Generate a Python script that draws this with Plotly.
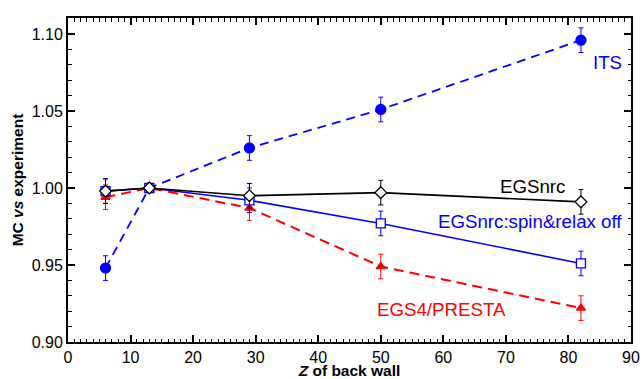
import plotly.graph_objects as go

z = [6, 13, 29, 50, 82]
its = [0.948, 1.000, 1.026, 1.051, 1.096]
its_err = [0.008, 0.002, 0.008, 0.008, 0.008]
egsnrc = [0.998, 1.000, 0.995, 0.997, 0.991]
egsnrc_err = [0.008, 0.002, 0.008, 0.008, 0.008]
spin_off = [0.998, 1.000, 0.992, 0.977, 0.951]
spin_err = [0.008, 0.002, 0.008, 0.008, 0.008]
presta = [0.994, 1.000, 0.987, 0.949, 0.922]
presta_err = [0.008, 0.002, 0.008, 0.008, 0.008]

BLUE = "#0000ff"
RED = "#ff0000"
FONT = "Liberation Sans"

fig = go.Figure()

def add(y, err, color, dash, symbol, fill, lw, msize):
    fig.add_trace(go.Scatter(
        x=z, y=y, mode="lines+markers",
        line=dict(color=color, width=lw, dash=dash),
        marker=dict(symbol=symbol, size=msize, color=fill,
                    line=dict(color=color, width=1.3)),
        error_y=dict(type="data", array=err, visible=True, color=color,
                     thickness=1, width=2.5),
        showlegend=False, cliponaxis=False))

add(presta, presta_err, RED, "10px,6px", "triangle-up", RED, 2, 8)
add(its, its_err, BLUE, "9px,6px", "circle", BLUE, 1.8, 10)
add(spin_off, spin_err, BLUE, "solid", "square", "white", 1.6, 9)
add(egsnrc, egsnrc_err, "black", "solid", "diamond", "white", 1.6, 9)

labels = [
    ("ITS", 86.2, 1.0818, BLUE),
    ("EGSnrc", 74.2, 1.0012, "black"),
    ("EGSnrc:spin&relax off", 73.9, 0.9784, BLUE),
    ("EGS4/PRESTA", 59.7, 0.9212, RED),
]
for txt, xx, yy, col in labels:
    fig.add_annotation(x=xx, y=yy, text=txt, showarrow=False,
                       font=dict(family=FONT, size=18.7, color=col))

axis_common = dict(
    showline=True, linecolor="black", linewidth=2, mirror="allticks",
    ticks="inside", ticklen=7, tickwidth=1.5, tickcolor="black",
    showgrid=False, zeroline=False, automargin=False,
    tickfont=dict(family=FONT, size=16, color="black"),
)

title_font = dict(family=FONT, size=15.5, color="black", weight="bold")

fig.update_xaxes(range=[0, 90], dtick=10, tick0=0,
                 minor=dict(dtick=1, ticks="inside", ticklen=3.5, tickwidth=1, tickcolor="black"),
                 title=dict(text="<i>Z</i> of back wall", font=title_font, standoff=1),
                 **axis_common)
fig.update_yaxes(range=[0.90, 1.1104], dtick=0.05, tick0=0.9, tickformat=".2f",
                 minor=dict(dtick=0.01, ticks="inside", ticklen=3.5, tickwidth=1, tickcolor="black"),
                 title=dict(text="MC <i>vs</i> experiment", font=title_font, standoff=4),
                 **axis_common)

fig.update_layout(width=643, height=379, margin=dict(l=68, r=12, t=18, b=37),
                  plot_bgcolor="white", paper_bgcolor="white")

fig.write_html("out.html", config={"displayModeBar": False},
               post_script="document.body.style.margin='0';document.body.style.overflow='hidden';")
